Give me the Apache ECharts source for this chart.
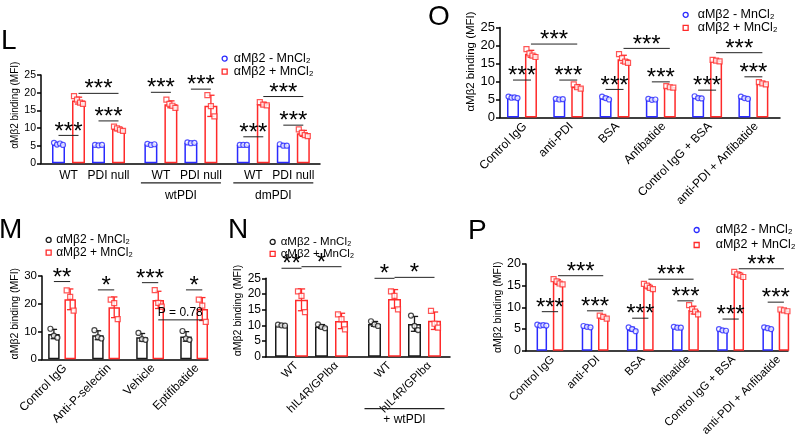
<!DOCTYPE html>
<html><head><meta charset="utf-8">
<script src="https://cdn.jsdelivr.net/npm/echarts@6/dist/echarts.min.js"></script>
<style>html,body{margin:0;padding:0;background:#fff}#c{width:800px;height:438px}</style>
</head><body><div id="c"></div>
<script>
// ---------------- DATA ----------------
const Y_TITLE = 'αMβ2 binding (MFI)';
const LEGEND_LABELS = ['αMβ2 - MnCl₂', 'αMβ2 + MnCl₂'];

// Panel L
const L_categories = ['WT', 'PDI null', 'WT', 'PDI null', 'WT', 'PDI null'];
const L_groupLabels = ['', 'wtPDI', 'dmPDI'];
const L_minus = [[5.8,5.3,5.6,5.2],[5.2,5.1,5.2],[5.5,5.2,5.4],[5.9,5.7,5.8],[5.2,5.2,5.2],[5.4,5.0,5.0]];
const L_plus  = [[19.0,18.0,17.2,16.8],[10.4,9.9,9.5,9.2],[18.0,16.8,16.3,15.7],[19.3,16.2,13.3],[17.3,16.6,16.4],[9.6,8.6,8.0,7.7]];
// [fromCategory, fromSeries, toCategory, toSeries, y, label]
const L_sig = [[0,0,0,1,7.9,'***'],[0,1,1,1,19.8,'***'],[1,0,1,1,12.0,'***'],[2,0,2,1,20.1,'***'],
               [3,0,3,1,21.0,'***'],[4,0,4,1,7.5,'***'],[4,1,5,1,18.9,'***'],[5,0,5,1,10.8,'***']];

// Panel O
const O_categories = ['Control IgG', 'anti-PDI', 'BSA', 'Anfibatide', 'Control IgG + BSA', 'anti-PDI + Anfibatide'];
const O_groupLabels = [];
const O_minus = [[5.8,5.5,5.6,5.4],[5.2,5.0,5.1],[5.8,5.4,5.0],[5.2,4.9,5.0],[5.9,5.4,5.3],[5.8,5.4,5.2]];
const O_plus  = [[19.0,17.8,17.2,16.8],[9.2,8.4,8.0],[17.6,16.5,15.5,15.2],[8.7,8.4,8.3],[16.0,15.8,15.6],[9.8,9.5,9.2]];
const O_sig = [[0,0,0,1,10.4,'***'],[0,1,1,1,20.4,'***'],[1,0,1,1,10.4,'***'],[2,0,2,1,7.8,'***'],[2,1,3,1,19.2,'***'],
               [3,0,3,1,9.9,'***'],[4,0,4,1,7.6,'***'],[4,1,5,1,18.0,'***'],[5,0,5,1,11.3,'***']];

// Panel M
const M_categories = ['Control IgG', 'Anti-P-selectin', 'Vehicle', 'Eptifibatide'];
const M_groupLabels = [];
const M_minus = [[11.0,8.5,7.8],[10.5,8.0,7.5],[9.5,7.3,7.0],[10.2,7.5,7.0]];
const M_plus  = [[24.8,22.5,17.5],[21.5,20.2,14.5],[24.9,20.3,19.0],[21.5,19.3,13.5]];
const M_sig = [[0,0,0,1,28.0,'**'],[1,0,1,1,25.0,'*'],[2,0,2,1,27.6,'***'],[3,0,3,1,25.0,'*'],[2,1,3,1,14.2,'P = 0.78']];

// Panel N
const N_categories = ['WT', 'hIL4R/GPIbα', 'WT', 'hIL4R/GPIbα'];
const N_groupLabels = ['', '+ wtPDI'];
const N_minus = [[10.2,10.0,9.9],[10.3,9.5,9.1],[11.3,10.3,9.8],[13.1,9.8,8.5]];
const N_plus  = [[20.8,19.4,14.2],[13.5,12.0,8.7],[20.8,19.4,15.1],[14.6,10.5,9.3]];
const N_sig = [[0,0,0,1,28.2,'**'],[0,1,1,1,28.7,'*'],[2,0,2,1,25.0,'*'],[2,1,3,1,25.3,'*']];

// Panel P
const P_categories = ['Control IgG', 'anti-PDI', 'BSA', 'Anfibatide', 'Control IgG + BSA', 'anti-PDI + Anfibatide'];
const P_groupLabels = [];
const P_minus = [[6.0,5.8,5.9,5.8],[5.7,5.5,5.4],[5.4,5.0,4.5],[5.5,5.3,5.3],[5.0,4.7,4.6],[5.4,5.2,5.0]];
const P_plus  = [[16.5,16.0,15.5,15.3],[8.1,7.8,7.4],[15.4,15.0,14.5,14.2],[10.5,9.6,9.0,8.4],[18.2,17.6,17.3,17.0],[9.5,9.3,9.1]];
const P_sig = [[0,0,0,1,9.0,'***'],[0,1,1,1,17.3,'***'],[1,0,1,1,9.2,'***'],[2,0,2,1,7.5,'***'],[2,1,3,1,16.5,'***'],
               [3,0,3,1,11.5,'***'],[4,0,4,1,7.3,'***'],[4,1,5,1,18.9,'***'],[5,0,5,1,11.2,'***']];

// ---------------- LAYOUT / STYLE ----------------
const FONT = '"Liberation Sans", Arial, sans-serif';
const BLUE = '#2a2aff', RED = '#ff2a2a', BLACK = '#1a1a1a';

const panels = [
  {id:'L', cats:L_categories, groups:L_groupLabels, minus:L_minus, plus:L_plus, sig:L_sig, cMinus:BLUE, cPlus:RED,
   grid:{left:41, top:75, width:279, height:88.3}, yMax:25, yInt:5, tickFont:10.5, titleFont:10, titleGap:17, titleShift:14,
   xMax:13.95, first:1.375, perGroup:2, pairGap:2, groupGap:4.62, barOff:0.5, barW:13,
   rot:false, labelFont:12, labelDx:0, labelDy:12, groupLine:{dy:19.5, half:2, textDy:32, font:12},
   letter:{x:1, y:27}, legend:{left:221.5, top:52.1, font:12.5, row:10.4, icon:5, pad:1.5}},
  {id:'O', cats:O_categories, groups:O_groupLabels, minus:O_minus, plus:O_plus, sig:O_sig, cMinus:BLUE, cPlus:RED,
   grid:{left:500, top:27.5, width:280, height:90}, yMax:25, yInt:5, tickFont:13, titleFont:11.5, titleGap:21, titleShift:11,
   xMax:6.05, first:0.475, perGroup:1, pairGap:1, groupGap:1, barOff:0.194, barW:12,
   rot:true, labelFont:12, labelDx:3, labelDy:7,
   letter:{x:428, y:3}, legend:{left:682.5, top:8.3, font:12.5, row:10, icon:5, pad:4.5}},
  {id:'M', cats:M_categories, groups:M_groupLabels, minus:M_minus, plus:M_plus, sig:M_sig, cMinus:BLACK, cPlus:RED,
   grid:{left:42, top:276, width:166, height:83.3}, yMax:30, yInt:10, tickFont:11.5, titleFont:10.5, titleGap:18.5, titleShift:4,
   xMax:3.77, first:0.455, perGroup:1, pairGap:1, groupGap:1, barOff:0.185, barW:11.5,
   rot:true, labelFont:12, labelDx:3, labelDy:7,
   letter:{x:-1, y:216}, legend:{left:45.5, top:233.6, font:12, row:12.7, icon:5, pad:0}},
  {id:'N', cats:N_categories, groups:N_groupLabels, minus:N_minus, plus:N_plus, sig:N_sig, cMinus:BLACK, cPlus:RED,
   grid:{left:266, top:278.3, width:184, height:78.4}, yMax:25, yInt:5, tickFont:12, titleFont:10.5, titleGap:15.5, titleShift:7,
   xMax:9.2, first:1.275, perGroup:2, pairGap:2, groupGap:4.65, barOff:0.5, barW:13,
   rot:true, labelFont:11.5, labelDx:5, labelDy:7, groupLine:{dy:52, half:2, textDy:62.5, font:12},
   letter:{x:228, y:216}, legend:{left:269.5, top:235.9, font:11.5, row:11.6, icon:5, pad:0.5}},
  {id:'P', cats:P_categories, groups:P_groupLabels, minus:P_minus, plus:P_plus, sig:P_sig, cMinus:BLUE, cPlus:RED,
   grid:{left:526, top:264, width:262, height:86.7}, yMax:20, yInt:5, tickFont:12.5, titleFont:10.5, titleGap:17, titleShift:0,
   xMax:5.8, first:0.53, perGroup:1, pairGap:1, groupGap:1, barOff:0.18, barW:10.5,
   rot:true, labelFont:11.5, labelDx:3, labelDy:7,
   letter:{x:468, y:217}, legend:{left:693.5, top:222.5, font:12.5, row:15, icon:5, pad:11.5}}
];

// ---------------- BUILD ----------------
const mean = a => a.reduce((s, v) => s + v, 0) / a.length;
const sd = a => { const m = mean(a); return Math.sqrt(a.reduce((s, v) => s + (v - m) * (v - m), 0) / (a.length - 1)); };
const jitter = (j, n) => (j - (n - 1) / 2) * (n > 3 ? 3 : 3.5);

const option = {animation:false, backgroundColor:'#fff', title:[], legend:[], grid:[], xAxis:[], yAxis:[], series:[]};

panels.forEach((p, gi) => {
  const center = i => p.first + Math.floor(i / p.perGroup) * p.groupGap + (i % p.perGroup) * p.pairGap;
  const xPos = (i, s) => center(i) + (s ? p.barOff : -p.barOff);
  const ax = {xAxisIndex: gi, yAxisIndex: gi};

  option.title.push({text:p.id, left:p.letter.x, top:p.letter.y, padding:0,
    textStyle:{fontSize:28, fontWeight:'normal', fontFamily:FONT, color:'#000'}});

  option.grid.push({left:p.grid.left, top:p.grid.top, width:p.grid.width, height:p.grid.height});
  option.xAxis.push({type:'value', gridIndex:gi, min:0, max:p.xMax,
    axisLine:{show:true, lineStyle:{color:'#000', width:1.5}}, axisTick:{show:false}, axisLabel:{show:false}, splitLine:{show:false}});
  option.yAxis.push({type:'value', gridIndex:gi, min:0, max:p.yMax, interval:p.yInt,
    axisLine:{show:true, lineStyle:{color:'#000', width:1.5}},
    axisTick:{show:true, length:4, lineStyle:{color:'#000', width:1.5}},
    axisLabel:{color:'#000', fontSize:p.tickFont, fontFamily:FONT, margin:5},
    splitLine:{show:false},
    name:Y_TITLE, nameLocation:'middle', nameGap:p.titleGap,
    nameTextStyle:{fontSize:p.titleFont, fontFamily:FONT, color:'#000', padding:[0,0,0,p.titleShift * 2]}});

  option.legend.push({orient:'vertical', left:p.legend.left, top:p.legend.top, padding:0, itemGap:0,
    itemWidth:p.legend.icon, itemHeight:p.legend.icon, selectedMode:false,
    textStyle:{fontSize:p.legend.font, fontFamily:FONT, color:'#000', lineHeight:p.legend.row, padding:[0,0,0,p.legend.pad]},
    formatter: name => name.endsWith('minus') ? LEGEND_LABELS[0] : LEGEND_LABELS[1],
    data:[{name:p.id + ' minus', icon:'circle', itemStyle:{color:'#fff', borderColor:p.cMinus, borderWidth:1.3}},
          {name:p.id + ' plus', icon:'rect', itemStyle:{color:'#fff', borderColor:p.cPlus, borderWidth:1.3}}]});

  [p.minus, p.plus].forEach((reps, s) => {
    const color = s ? p.cPlus : p.cMinus;
    const nm = p.id + (s ? ' plus' : ' minus');
    option.series.push(Object.assign({type:'bar', name:nm, barWidth:p.barW, barGap:'-100%', z:2,
      data: reps.map((r, i) => [xPos(i, s), mean(r)]),
      itemStyle:{color:'#fff', borderColor:color, borderWidth:1.5}}, ax));
    option.series.push(Object.assign({type:'custom', name:nm, z:3, clip:false, silent:true,
      data: reps.map((r, i) => [xPos(i, s), mean(r), sd(r)]),
      renderItem: (params, api) => {
        const x = api.value(0), m = api.value(1), e = api.value(2);
        const t = api.coord([x, m + e]), b = api.coord([x, m - e]);
        const cw = p.barW * 0.28;
        const st = {stroke:color, lineWidth:1.3, fill:null};
        return {type:'group', children:[
          {type:'line', shape:{x1:t[0], y1:t[1], x2:b[0], y2:b[1]}, style:st},
          {type:'line', shape:{x1:t[0] - cw, y1:t[1], x2:t[0] + cw, y2:t[1]}, style:st},
          {type:'line', shape:{x1:b[0] - cw, y1:b[1], x2:b[0] + cw, y2:b[1]}, style:st}]};
      }}, ax));
    const pts = [];
    reps.forEach((r, i) => r.forEach((v, j) => pts.push({value:[xPos(i, s), v], symbolOffset:[jitter(j, r.length), 0]})));
    option.series.push(Object.assign({type:'scatter', name:nm, z:4, symbol: s ? 'rect' : 'circle', symbolSize:5,
      data:pts, itemStyle:{color:'#fff', borderColor:color, borderWidth:1.2}}, ax));
  });

  // significance brackets
  option.series.push(Object.assign({type:'custom', z:5, clip:false, silent:true,
    data: p.sig.map(r => [xPos(r[0], r[1]), xPos(r[2], r[3]), r[4]]),
    renderItem: (params, api) => {
      const label = p.sig[params.dataIndex][5];
      const a = api.coord([api.value(0), api.value(2)]), b = api.coord([api.value(1), api.value(2)]);
      const stars = /^\*+$/.test(label);
      return {type:'group', children:[
        {type:'line', shape:{x1:a[0], y1:a[1], x2:b[0], y2:b[1]}, style:{stroke:'#222', lineWidth:1}},
        {type:'text', x:(a[0] + b[0]) / 2, y: stars ? a[1] - 3.5 : a[1] - 1,
          style:{text:label, fill:'#000', font:(stars ? '24px ' : '12px ') + FONT, align:'center',
                 verticalAlign: stars ? 'middle' : 'bottom'}}]};
    }}, ax));

  // category labels
  option.series.push(Object.assign({type:'custom', z:5, clip:false, silent:true,
    data: p.cats.map((c, i) => [center(i), 0]),
    renderItem: (params, api) => {
      const pt = api.coord([api.value(0), 0]);
      const text = p.cats[params.dataIndex];
      const font = p.labelFont + 'px ' + FONT;
      if (p.rot) return {type:'text', x:pt[0] + p.labelDx, y:pt[1] + p.labelDy, rotation:Math.PI / 4,
        style:{text, fill:'#000', font, align:'right', verticalAlign:'middle'}};
      return {type:'text', x:pt[0], y:pt[1] + p.labelDy, style:{text, fill:'#000', font, align:'center', verticalAlign:'middle'}};
    }}, ax));

  // group labels with underline
  const gl = [];
  p.groups.forEach((g, k) => { if (g) gl.push({k, g}); });
  if (gl.length) {
    option.series.push(Object.assign({type:'custom', z:5, clip:false, silent:true,
      data: gl.map(o => [p.first + o.k * p.groupGap + (p.perGroup - 1) * p.pairGap / 2, 0]),
      renderItem: (params, api) => {
        const c = api.value(0);
        const l = api.coord([c - p.groupLine.half, 0]), r = api.coord([c + p.groupLine.half, 0]);
        const y = l[1] + p.groupLine.dy;
        return {type:'group', children:[
          {type:'line', shape:{x1:l[0], y1:y, x2:r[0], y2:y}, style:{stroke:'#222', lineWidth:1.2}},
          {type:'text', x:(l[0] + r[0]) / 2, y:l[1] + p.groupLine.textDy,
           style:{text:gl[params.dataIndex].g, fill:'#000', font:p.groupLine.font + 'px ' + FONT, align:'center', verticalAlign:'middle'}}]};
      }}, ax));
  }
});

const chart = echarts.init(document.getElementById('c'), null, {renderer:'canvas'});
chart.setOption(option);
</script></body></html>
